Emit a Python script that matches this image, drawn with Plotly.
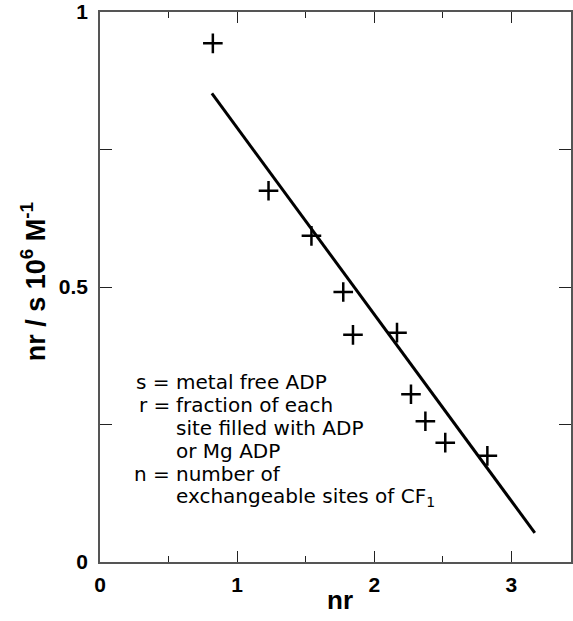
import plotly.graph_objects as go

# Data
nr_vals = [0.823, 1.229, 1.542, 1.774, 1.845, 2.166, 2.268, 2.373, 2.518, 2.825]
y_vals = [0.943, 0.675, 0.593, 0.491, 0.413, 0.417, 0.305, 0.256, 0.217, 0.193]
fit_x = [0.816, 3.171]
fit_y = [0.852, 0.053]

x_ticks = [0, 1, 2, 3]
x_ticktext = ["0", "1", "2", "3"]
x_minor = [0.5, 1.5, 2.5]
y_ticks = [0, 0.5, 1]
y_ticktext = ["0", "0.5", "1"]
y_minor = [0.25, 0.75]

legend_labels = ["s =", "r =", "", "", "n =", ""]
legend_texts = ["metal free ADP", "fraction of each", "site filled with ADP",
                "or Mg ADP", "number of", "exchangeable sites of CF<sub>1</sub>"]

FONT = "Liberation Sans, Arial, Helvetica, sans-serif"
LFONT = "DejaVu Sans, Verdana, sans-serif"
W, H = 573, 621
L, R, T, B = 100, 0, 12, 59

fig = go.Figure()
fig.add_trace(go.Scatter(x=fit_x, y=fit_y, mode="lines",
                         line=dict(color="black", width=3), showlegend=False))
fig.add_trace(go.Scatter(x=nr_vals, y=y_vals, mode="markers",
                         marker=dict(symbol="cross-thin", size=14,
                                     line=dict(color="black", width=2.5)),
                         showlegend=False))

# legend text block (paper coordinates from pixel layout)
def px_to_paper(px, py):
    return (px - L) / (W - L - R), 1 - (py - T) / (H - T - B)

for i, (lab, txt) in enumerate(zip(legend_labels, legend_texts)):
    py = 382 + i * 23
    if lab:
        xp, yp = px_to_paper(172, py)
        fig.add_annotation(xref="paper", yref="paper", x=xp, y=yp, text=lab,
                           showarrow=False, xanchor="right", yanchor="middle",
                           font=dict(family=LFONT, size=20, color="black"))
    xp, yp = px_to_paper(174, py)
    fig.add_annotation(xref="paper", yref="paper", x=xp, y=yp, text=txt,
                       showarrow=False, xanchor="left", yanchor="middle",
                       font=dict(family=LFONT, size=20, color="black"))

# axis titles
xp, yp = px_to_paper(341, 600)
fig.add_annotation(xref="paper", yref="paper", x=xp, y=yp, text="<b>nr</b>",
                   showarrow=False, xanchor="center", yanchor="middle",
                   font=dict(family=FONT, size=26, color="black"))
xp, yp = px_to_paper(33, 282)
fig.add_annotation(xref="paper", yref="paper", x=xp, y=yp,
                   text="<b>nr / s 10<sup>6</sup> M<sup>-1</sup></b>",
                   showarrow=False, xanchor="center", yanchor="middle", textangle=-90,
                   font=dict(family=FONT, size=27, color="black"))

fig.update_layout(
    width=W, height=H,
    margin=dict(l=L, r=R, t=T, b=B),
    paper_bgcolor="white", plot_bgcolor="white",
    font=dict(family=FONT, color="black"),
    xaxis=dict(range=[0, (W - L - R) / 137.7], tickvals=x_ticks,
               ticktext=["<b>%s</b>" % t for t in x_ticktext],
               ticks="inside", ticklen=11, tickwidth=1, tickcolor="#222",
               showline=True, linecolor="#555", linewidth=1.5, mirror="ticks",
               showgrid=False, zeroline=False,
               tickfont=dict(family=FONT, size=21, color="black"),
               ticklabelstandoff=3,
               minor=dict(tickvals=x_minor, ticks="inside", ticklen=6,
                          tickcolor="#222", tickwidth=1, showgrid=False)),
    yaxis=dict(range=[0, 1], tickvals=y_ticks,
               ticktext=["<b>%s</b>" % t for t in y_ticktext],
               ticks="inside", ticklen=12, tickwidth=1, tickcolor="#222",
               showline=True, linecolor="#555", linewidth=1.5, mirror="ticks",
               showgrid=False, zeroline=False,
               tickfont=dict(family=FONT, size=21, color="black"),
               ticklabelstandoff=6,
               minor=dict(tickvals=y_minor, ticks="inside", ticklen=12,
                          tickcolor="#222", tickwidth=1, showgrid=False)),
)

fig.write_html("out.html")
